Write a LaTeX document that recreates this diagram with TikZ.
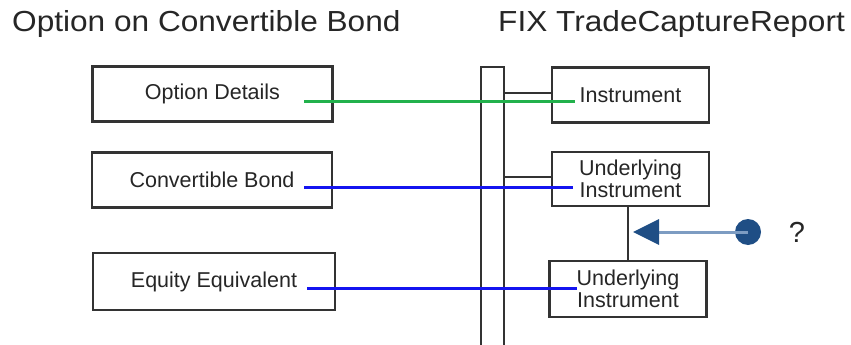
\documentclass[tikz,border=0pt]{standalone}
\usepackage{fontspec}
\setmainfont{Liberation Sans}
\usetikzlibrary{arrows.meta,calc}
\definecolor{framegray}{HTML}{333333}
\definecolor{textgray}{HTML}{262626}
\definecolor{mapgreen}{HTML}{22B14C}
\definecolor{mapblue}{HTML}{1414F0}
\definecolor{pointerblue}{HTML}{1F4E85}
\definecolor{shaftblue}{HTML}{7D9CC2}
\tikzset{
  title/.style={anchor=base west, inner sep=0pt, text=textgray,
    font=\fontsize{29}{34}\selectfont},
  entity/.style={draw=framegray, line width=2.2pt, fill=white, inner sep=0pt,
    minimum width=157pt, minimum height=55pt, text=textgray, align=center,
    font=\fontsize{21.5}{21.5}\selectfont},
  leftbox/.style={entity, minimum width=240pt},
  frame/.style={draw=framegray, line width=2.2pt},
  greenmap/.style={draw=mapgreen, line width=3pt},
  bluemap/.style={draw=mapblue, line width=3pt},
}
\begin{document}
\begin{tikzpicture}[x=1pt, y=-1pt]
\useasboundingbox (0,0) rectangle (851,345);

% headings
\node[title] (hleft) at (12,32) {\scalebox{1.09}[1]{Option on Convertible Bond}};
\node[title] (hright) at (498,32) {\scalebox{1.09}[1]{FIX TradeCaptureReport}};

% repeating-group bar
\draw[frame] (481,350) -- (481,67) -- (504,67) -- (504,350);
\coordinate (tap1) at (504,93);
\coordinate (tap2) at (504,177);

% option-side blocks
\node[leftbox] (opt) at (212.5,94) {Option Details};
\node[leftbox] (cb) at (212,180) {Convertible Bond};
\node[leftbox, minimum width=242pt, minimum height=57pt] (eq) at (214,281.5) {Equity Equivalent};

% FIX-side blocks
\node[entity] (inst) at (630.5,95) {Instrument};
\node[entity, minimum height=54pt] (und1) at (630.5,179) {Underlying\\Instrument};
\node[entity, minimum height=56pt] (und2) at (628,289) {Underlying\\Instrument};

% links from the bar
\draw[frame] (tap1) -- (tap1 -| inst.west);
\draw[frame] (tap2) -- (tap2 -| und1.west);
\draw[frame] (und2.north) -- (und2.north |- und1.south);

% mappings
\coordinate (g1) at (304,101);
\coordinate (g2) at (575,101);
\coordinate (b1) at (304,187);
\coordinate (b2) at (573,187);
\coordinate (c1) at (307,288);
\coordinate (c2) at (577,288);
\draw[greenmap] (g1) -- (g2);
\draw[bluemap] (b1) -- (b2);
\draw[bluemap] (c1) -- (c2);

% open question pointer
\node[circle, fill=pointerblue, minimum size=26pt, inner sep=0pt] (dot) at (748,232) {};
\coordinate (tip) at (633,232);
\draw[shaftblue, line width=3pt,
  -{Triangle[length=26pt, width=25pt, color=pointerblue]}] (dot.center) -- (tip);
\node[text=textgray, font=\fontsize{29}{34}\selectfont] (q) at (797,232) {?};
\end{tikzpicture}
\end{document}
